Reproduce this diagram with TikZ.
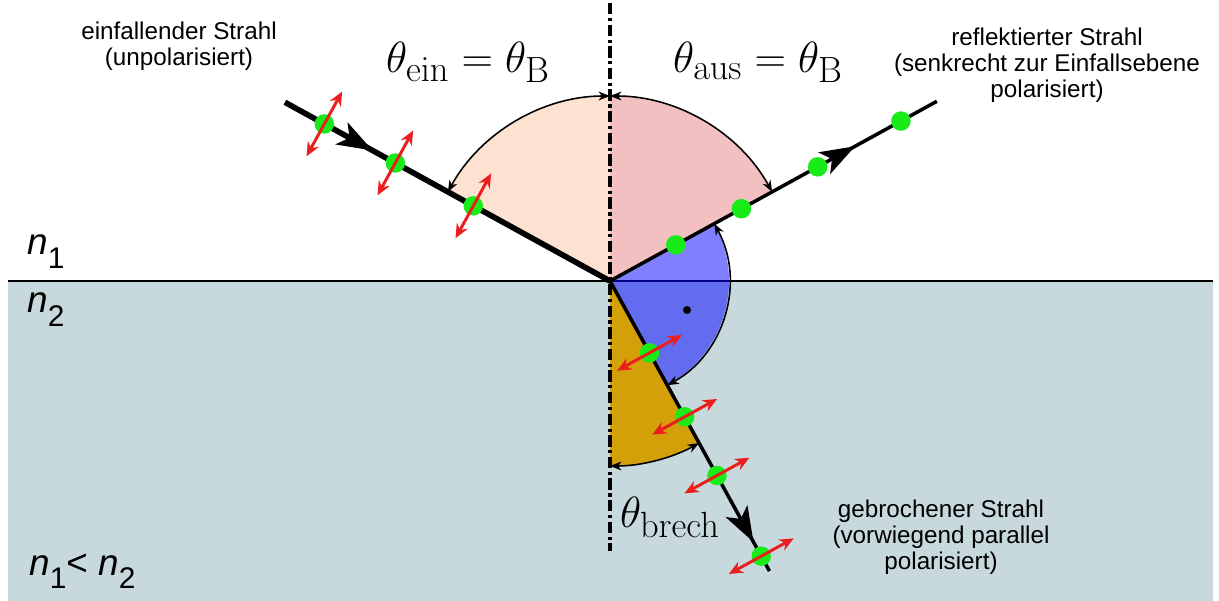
\documentclass[tikz,border=0pt]{standalone}
\usepackage[no-math]{fontspec}
\setsansfont{Liberation Sans}
\definecolor{Water}{RGB}{200,217,221}
\definecolor{Peach}{RGB}{253,226,210}
\definecolor{Rose}{RGB}{242,192,192}
\definecolor{Amber}{RGB}{212,160,10}
\definecolor{Lime}{RGB}{25,235,25}
\definecolor{Signal}{RGB}{235,30,30}
\usetikzlibrary{arrows.meta, decorations.markings}
\newcommand{\nsub}[1]{\raisebox{-0.36em}{\fontsize{17}{17}\selectfont #1}}

\begin{document}
\begin{tikzpicture}[
    x=0.02cm, y=0.02cm,
    every node/.style={inner sep=0pt},
    textlabel/.style={font=\sffamily\fontsize{13.8}{14.8}\selectfont, align=center},
    thetalabel/.style={font=\Huge, anchor=base},
    nlabel/.style={font=\sffamily\fontsize{21}{21}\selectfont, anchor=base west},
    ray/.style={line width=2pt},
    inray/.style={line width=3.2pt},
    anglearc/.style={line width=0.9pt, {Stealth[length=6.5pt,width=5pt,inset=2pt]}-{Stealth[length=6.5pt,width=5pt,inset=2pt]}},
    gdot/.style={circle, fill=Lime, minimum size=0.39cm},
    rdot/.style={circle, fill=black, minimum size=0.16cm},
    polarrow/.style={Signal, line width=1.7pt, {Stealth[length=8pt,width=7pt]}-{Stealth[length=8pt,width=7pt]}},
    midarrow/.style={postaction={decorate}, decoration={markings, mark=at position #1 with {\arrow{Stealth[length=20pt,width=14pt,inset=5pt]}}}}
]
\useasboundingbox (-610,-320) rectangle (609,281);
\coordinate (O) at (0,0);
\coordinate (ifL) at (-602,0);
\coordinate (ifR) at (603,0);
\coordinate (nTop) at (0,278);
\coordinate (nBot) at (0,-270);
\coordinate (inStart) at (151.2:371);
\coordinate (reEnd) at (28.8:373);
\coordinate (brEnd) at (-61.2:331);

% media
\fill[Water] (-602,0) rectangle (603,-320);
\draw[line width=1.7pt] (ifL) -- (ifR);

% angle wedges
\fill[Peach] (O) -- (90:185) arc[start angle=90, end angle=151.2, radius=185] -- cycle;
\fill[Rose] (O) -- (28.8:185) arc[start angle=28.8, end angle=90, radius=185] -- cycle;
\fill[Amber] (O) -- (-90:185) arc[start angle=-90, end angle=-61.2, radius=185] -- cycle;
\fill[blue, opacity=0.5] (O) -- (28.8:119) arc[start angle=28.8, end angle=-61.2, radius=119] -- cycle;
\draw[line width=1.9pt, dash pattern=on 6.5pt off 2pt on 1.8pt off 2pt] (nTop) -- (nBot);

\draw[anglearc] (90:185) arc[start angle=90, end angle=151.2, radius=185];
\draw[anglearc] (90:185) arc[start angle=90, end angle=28.8, radius=185];
\draw[anglearc] (28.8:119) arc[start angle=28.8, end angle=-61.2, radius=119];
\draw[anglearc] (-90:185) arc[start angle=-90, end angle=-61.2, radius=185];
\node[rdot] (rAngle) at (77,-29) {};

% rays
\draw[inray, midarrow=0.27] (inStart) -- (O);
\draw[ray, midarrow=0.75] (O) -- (reEnd);
\draw[ray, midarrow=0.9] (O) -- (brEnd);

% incident: unpolarised
\node[gdot] (in1) at (151.2:326) {};
\node[gdot] (in2) at (151.2:245) {};
\node[gdot] (in3) at (151.2:156) {};
\draw[polarrow] ([shift={(61.2:37)}]in1.center) -- ([shift={(61.2:-37)}]in1.center);
\draw[polarrow] ([shift={(61.2:37)}]in2.center) -- ([shift={(61.2:-37)}]in2.center);
\draw[polarrow] ([shift={(61.2:37)}]in3.center) -- ([shift={(61.2:-37)}]in3.center);

% reflected: s-polarised
\node[gdot] (re1) at (28.8:75) {};
\node[gdot] (re2) at (28.8:150) {};
\node[gdot] (re3) at (28.8:237) {};
\node[gdot] (re4) at (28.8:332) {};

% refracted
\node[gdot] (br1) at (-61.2:82) {};
\node[gdot] (br2) at (-61.2:155) {};
\node[gdot] (br3) at (-61.2:222) {};
\node[gdot] (br4) at (-61.2:314) {};
\draw[polarrow] ([shift={(28.8:37)}]br1.center) -- ([shift={(28.8:-37)}]br1.center);
\draw[polarrow] ([shift={(28.8:37)}]br2.center) -- ([shift={(28.8:-37)}]br2.center);
\draw[polarrow] ([shift={(28.8:37)}]br3.center) -- ([shift={(28.8:-37)}]br3.center);
\draw[polarrow] ([shift={(28.8:37)}]br4.center) -- ([shift={(28.8:-37)}]br4.center);

% labels
\node[textlabel] (inText) at (-431,235) {einfallender Strahl\\(unpolarisiert)};
\node[textlabel] (reText) at (437,216) {reflektierter Strahl\\(senkrecht zur Einfallsebene\\polarisiert)};
\node[textlabel] (brText) at (331,-256) {gebrochener Strahl\\(vorwiegend parallel\\polarisiert)};
\node[thetalabel] (thIn) at (-142,208) {$\theta_{\mathrm{ein}} = \theta_{\mathrm{B}}$};
\node[thetalabel] (thOut) at (148,208) {$\theta_{\mathrm{aus}} = \theta_{\mathrm{B}}$};
\node[thetalabel] (thBr) at (60,-246) {$\theta_{\mathrm{brech}}$};
\node[nlabel] (n1) at (-583,26) {\textit{n}\nsub{1}};
\node[nlabel] (n2) at (-583,-32) {\textit{n}\nsub{2}};
\node[nlabel] (n12) at (-581,-294) {\textit{n}\nsub{1}< \textit{n}\nsub{2}};
\end{tikzpicture}
\end{document}
